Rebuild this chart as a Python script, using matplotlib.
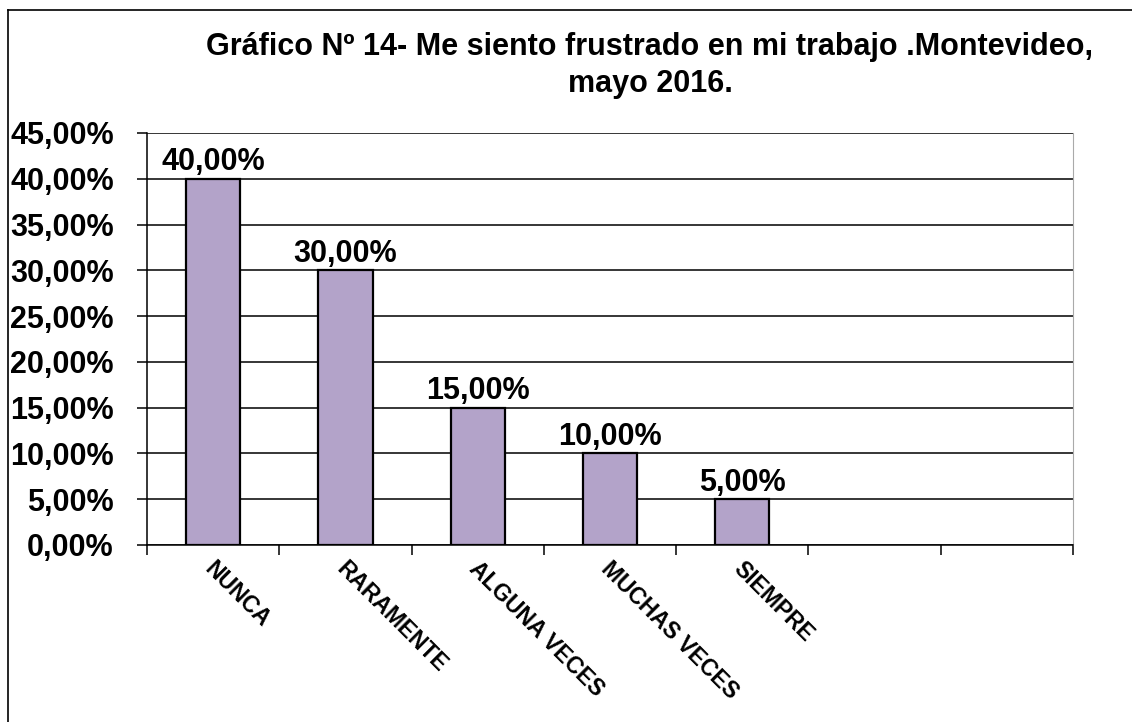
import matplotlib
matplotlib.use('Agg')
import matplotlib.pyplot as plt

# Chart data
categories = ['NUNCA', 'RARAMENTE', 'ALGUNA VECES', 'MUCHAS VECES', 'SIEMPRE', '', '']
values = [40.0, 30.0, 15.0, 10.0, 5.0, None, None]
yticks = [0, 5, 10, 15, 20, 25, 30, 35, 40, 45]
title_lines = ['Gráfico Nº 14- Me siento frustrado en mi trabajo .Montevideo,', 'mayo 2016.']

def pct(v):
	return ('%.2f%%' % v).replace('.', ',')

plt.rcParams['font.family'] = ['Liberation Sans', 'DejaVu Sans']
plt.rcParams['font.weight'] = 'bold'

fig = plt.figure(figsize=(11.32, 7.22), dpi=100)
ax = fig.add_axes([0.1299, 0.2452, 0.8180, 0.5706])

# Figure frame (only top and left visible in the original)
fig.add_artist(plt.Line2D([8/1132, 8/1132], [0, 1 - 10/722], color='black', lw=1.2, transform=fig.transFigure))
fig.add_artist(plt.Line2D([8/1132, 1], [1 - 10/722, 1 - 10/722], color='black', lw=1.2, transform=fig.transFigure))

# Bars
xs = list(range(len(categories)))
for x, v in zip(xs, values):
	if v is None:
		continue
	ax.bar(x, v, width=0.41, color='#b3a3c9', edgecolor='black', linewidth=1.6, zorder=3)
	ax.annotate(pct(v), xy=(x, v), xytext=(0, 6), textcoords='offset points',
		ha='center', va='baseline', fontsize=22, fontweight='bold', zorder=4)

ax.set_xlim(-0.5, len(categories) - 0.5)
ax.set_ylim(0, 45)

# Y axis
ax.set_yticks(yticks)
ax.set_yticklabels([pct(t) for t in yticks], fontsize=22, fontweight='bold')
ax.yaxis.grid(True, color='black', linewidth=1.1, zorder=0)
ax.tick_params(axis='y', length=7, width=1.1, direction='out', pad=17)

# X axis: ticks between categories, labels under bars
ax.set_xticks([i - 0.5 for i in range(len(categories) + 1)])
ax.set_xticklabels([])
ax.tick_params(axis='x', length=7, width=1.1, direction='out')
for x, c in zip(xs, categories):
	if c:
		ax.annotate(c, xy=(x, 0), xycoords=('data', 'axes fraction'), xytext=(-4, -15),
			textcoords='offset points', rotation=-45, rotation_mode='anchor',
			ha='left', va='center', fontsize=16.5, fontweight='bold')

ax.spines['top'].set_visible(False)
ax.spines['right'].set_color('#aaaaaa')
ax.spines['left'].set_linewidth(1.1)
ax.spines['bottom'].set_linewidth(1.1)

fig.text(650/1132, 1 - 55/722, title_lines[0], ha='center', va='baseline', fontsize=22, fontweight='bold')
fig.text(650/1132, 1 - 92/722, title_lines[1], ha='center', va='baseline', fontsize=22, fontweight='bold')

fig.savefig('out.png', dpi=100)
